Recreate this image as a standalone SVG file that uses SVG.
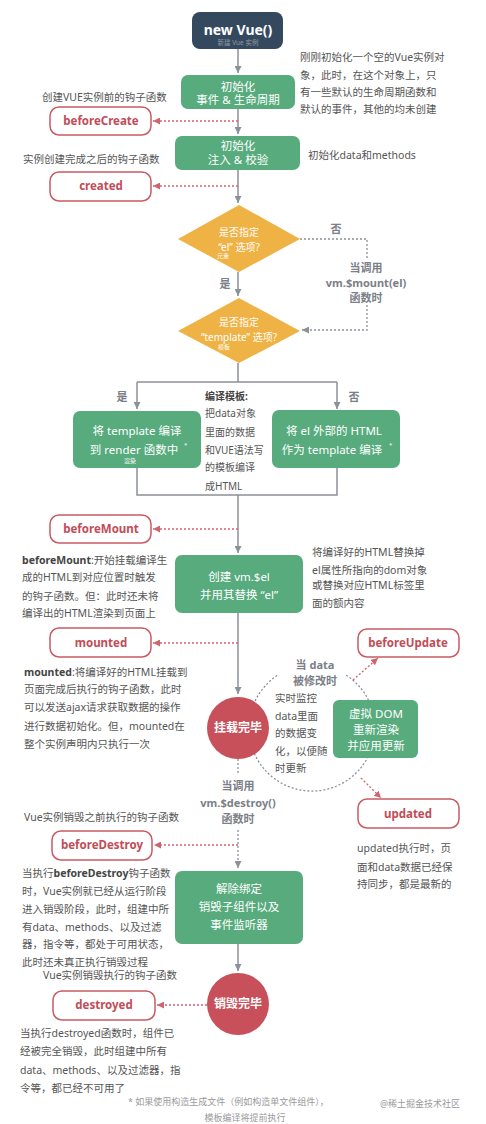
<svg xmlns="http://www.w3.org/2000/svg" width="486" height="1124" viewBox="0 0 486 1124">
<style>
text{font-family:"Noto Sans","Noto Sans CJK SC",sans-serif}
.d{font-size:10.5px;fill:#555}
.dm{font-size:10px;fill:#555}
.b{font-weight:bold;fill:#444}
.g{fill:#57ab7d}
.gt{font-size:11.5px;fill:#fff;text-anchor:middle}
.wt{font-size:10px;fill:#fff;text-anchor:middle}
.sm{font-size:6px;fill:#fff}
.hk{fill:#fff;stroke:#c95a63;stroke-width:1.5}
.hkt{font-size:11.5px;font-weight:bold;fill:#c24c57;text-anchor:middle}
.lb{font-size:11px;font-weight:bold;fill:#7b8088;text-anchor:middle}
.ln{fill:none;stroke:#8c9099;stroke-width:1.5}
.dt{fill:none;stroke:#8c9099;stroke-width:1.3;stroke-dasharray:2 2}
.rd{fill:none;stroke:#d0646d;stroke-width:1.3;stroke-dasharray:2 2}
.dia{fill:#efb244}
.cir{fill:#c7505a}
.ct{font-size:12px;font-weight:bold;fill:#fff;text-anchor:middle}
.fn{font-size:9px;fill:#9a9a9a}
</style>
<defs>
<marker id="ag" viewBox="0 0 10 10" refX="10" refY="5" markerWidth="7" markerHeight="7" markerUnits="userSpaceOnUse" orient="auto"><path d="M0,0L10,5L0,10z" fill="#8c9099" stroke="none"/></marker>
<marker id="ar" viewBox="0 0 10 10" refX="10" refY="5" markerWidth="7" markerHeight="7" markerUnits="userSpaceOnUse" orient="auto"><path d="M0,0L10,5L0,10z" fill="#d0646d" stroke="none"/></marker>
</defs>
<rect width="486" height="1124" fill="#fff"/>

<g id="connectors">
<path class="ln" d="M238,49V73" marker-end="url(#ag)"/>
<path class="ln" d="M238,109V134" marker-end="url(#ag)"/>
<path class="ln" d="M238,170V203" marker-end="url(#ag)"/>
<path class="ln" d="M238,272V296" marker-end="url(#ag)"/>
<path class="ln" d="M238,363V382M137,382H337"/>
<path class="ln" d="M137,382V409" marker-end="url(#ag)"/>
<path class="ln" d="M337,382V409" marker-end="url(#ag)"/>
<path class="ln" d="M137,468V495H337V468"/>
<path class="ln" d="M238,495V553" marker-end="url(#ag)"/>
<path class="ln" d="M238,613V694" marker-end="url(#ag)"/>
<path class="dt" d="M238,759V775"/>
<path class="dt" d="M238,830V868" marker-end="url(#ag)"/>
<path class="ln" d="M238,944V971" marker-end="url(#ag)"/>
<path class="dt" d="M300,239H367V258"/>
<path class="dt" d="M367,305V330H302" marker-end="url(#ag)"/>
<path class="rd" d="M238,121H153" marker-end="url(#ar)"/>
<path class="rd" d="M238,186H153" marker-end="url(#ar)"/>
<path class="rd" d="M238,529H153" marker-end="url(#ar)"/>
<path class="rd" d="M238,643H153" marker-end="url(#ar)"/>
<path class="rd" d="M238,845H154" marker-end="url(#ar)"/>
<path class="rd" d="M207,1005H157" marker-end="url(#ar)"/>
<path class="dt" d="M346.3,675.2A63,63 0 1 1 277.7,675.2"/>
<path class="rd" d="M353,680L378,658" marker-end="url(#ar)"/>
<path class="rd" d="M361,778L381,798" marker-end="url(#ar)"/>
</g>

<g id="newvue">
<rect x="192" y="12" width="91" height="37" rx="8" fill="#34495e"/>
<text x="238" y="35" text-anchor="middle" font-size="14" font-weight="bold" fill="#fff">new Vue()</text>
<text x="238" y="45" text-anchor="middle" font-size="6.5" fill="#8e9aa6">新建 Vue 实例</text>
</g>

<g id="init1">
<rect class="g" x="181" y="75" width="114" height="34" rx="7"/>
<text class="gt" x="238" y="91" font-size="11">初始化</text>
<text class="gt" x="238" y="104" font-size="11">事件 &amp; 生命周期</text>
</g>
<g id="note1">
<text class="d" x="300" y="61">刚刚初始化一个空的Vue实例对</text>
<text class="d" x="300" y="79">象，此时，在这个对象上，只</text>
<text class="d" x="300" y="96">有一些默认的生命周期函数和</text>
<text class="d" x="300" y="113">默认的事件，其他的均未创建</text>
</g>

<g id="beforeCreate">
<text class="d" x="42" y="101">创建VUE实例前的钩子函数</text>
<rect class="hk" x="50" y="107" width="101" height="28" rx="9"/>
<text class="hkt" x="101" y="125">beforeCreate</text>
</g>

<g id="init2">
<rect class="g" x="175" y="136" width="125" height="34" rx="7"/>
<text class="gt" x="238" y="150" font-size="11">初始化</text>
<text class="gt" x="238" y="164" font-size="11">注入 &amp; 校验</text>
<text class="d" x="308" y="159">初始化data和methods</text>
</g>

<g id="created">
<text class="d" x="23" y="163">实例创建完成之后的钩子函数</text>
<rect class="hk" x="50" y="172" width="101" height="29" rx="9"/>
<text class="hkt" x="101" y="190">created</text>
</g>

<g id="decision-el">
<polygon class="dia" points="239,205 300,239 239,272 178,239"/>
<text class="wt" x="239" y="236">是否指定</text>
<text class="wt" x="239" y="251">“el” 选项?</text>
<text class="sm" x="217" y="258">元素</text>
<text class="lb" x="225" y="288">是</text>
<text class="lb" x="336" y="233">否</text>
</g>

<g id="mount-call">
<text class="lb" x="366" y="272">当调用</text>
<text class="lb" x="366" y="287">vm.$mount(el)</text>
<text class="lb" x="366" y="302">函数时</text>
</g>

<g id="decision-template">
<polygon class="dia" points="239,298 300,331 239,363 178,331"/>
<text class="wt" x="239" y="326">是否指定</text>
<text class="wt" x="239" y="341">“template” 选项?</text>
<text class="sm" x="218" y="349">模板</text>
<text class="lb" x="122" y="401">是</text>
<text class="lb" x="354" y="401">否</text>
</g>

<g id="compile-template">
<rect class="g" x="73" y="411" width="128" height="57" rx="7"/>
<text class="gt" x="137" y="435">将 template 编译</text>
<text class="gt" x="134" y="454">到 render 函数中</text>
<text class="sm" x="184" y="447" font-size="8">*</text>
<text class="sm" x="124" y="463">渲染</text>
</g>

<g id="compile-el">
<rect class="g" x="272" y="410" width="128" height="58" rx="7"/>
<text class="gt" x="334" y="435">将 el 外部的 HTML</text>
<text class="gt" x="332" y="454">作为 template 编译</text>
<text class="sm" x="389" y="447" font-size="8">*</text>
</g>

<g id="compile-note">
<text class="dm b" x="205" y="400">编译模板:</text>
<text class="dm" x="205" y="417">把data对象</text>
<text class="dm" x="205" y="436">里面的数据</text>
<text class="dm" x="205" y="454">和VUE语法写</text>
<text class="dm" x="205" y="471">的模板编译</text>
<text class="dm" x="205" y="490">成HTML</text>
</g>

<g id="beforeMount">
<rect class="hk" x="50" y="515" width="101" height="28" rx="9"/>
<text class="hkt" x="101" y="533">beforeMount</text>
<text class="d" x="22" y="564"><tspan class="b">beforeMount</tspan>:开始挂载编译生</text>
<text class="d" x="22" y="581">成的HTML到对应位置时触发</text>
<text class="d" x="22" y="600">的钩子函数。但：此时还未将</text>
<text class="d" x="22" y="617">编译出的HTML渲染到页面上</text>
</g>

<g id="create-el">
<rect class="g" x="175" y="555" width="128" height="58" rx="7"/>
<text class="gt" x="239" y="581">创建  vm.$el</text>
<text class="gt" x="239" y="599">并用其替换 “el”</text>
<text class="d" x="312" y="556">将编译好的HTML替换掉</text>
<text class="d" x="312" y="574">el属性所指向的dom对象</text>
<text class="d" x="312" y="589">或替换对应HTML标签里</text>
<text class="d" x="312" y="607">面的额内容</text>
</g>

<g id="mounted">
<rect class="hk" x="50" y="628" width="101" height="29" rx="9"/>
<text class="hkt" x="101" y="647">mounted</text>
<text class="d" x="24" y="676"><tspan class="b">mounted</tspan>:将编译好的HTML挂载到</text>
<text class="d" x="24" y="693">页面完成后执行的钩子函数，此时</text>
<text class="d" x="24" y="711">可以发送ajax请求获取数据的操作</text>
<text class="d" x="24" y="730">进行数据初始化。但，mounted在</text>
<text class="d" x="24" y="748">整个实例声明内只执行一次</text>
</g>

<g id="mounted-done">
<circle class="cir" cx="238" cy="728" r="31"/>
<text class="ct" x="238" y="732">挂载完毕</text>
</g>

<g id="update-loop">
<text class="lb" x="315" y="669">当 data</text>
<text class="lb" x="315" y="685">被修改时</text>
<text class="d" x="275" y="702">实时监控</text>
<text class="d" x="275" y="720">data里面</text>
<text class="d" x="275" y="737">的数据变</text>
<text class="d" x="275" y="755">化，以便随</text>
<text class="d" x="275" y="772">时更新</text>
</g>

<g id="vdom">
<rect class="g" x="333" y="700" width="85" height="58" rx="6"/>
<text class="gt" x="376" y="718">虚拟 DOM</text>
<text class="gt" x="376" y="734">重新渲染</text>
<text class="gt" x="376" y="750">并应用更新</text>
</g>

<g id="beforeUpdate">
<rect class="hk" x="358" y="629" width="101" height="28" rx="9"/>
<text class="hkt" x="408" y="647">beforeUpdate</text>
</g>

<g id="updated">
<rect class="hk" x="358" y="799" width="101" height="29" rx="9"/>
<text class="hkt" x="408" y="818">updated</text>
<text class="d" x="357" y="852">updated执行时，页</text>
<text class="d" x="357" y="871">面和data数据已经保</text>
<text class="d" x="357" y="888">持同步，都是最新的</text>
</g>

<g id="destroy-call">
<text class="lb" x="238" y="790">当调用</text>
<text class="lb" x="238" y="807">vm.$destroy()</text>
<text class="lb" x="238" y="823">函数时</text>
</g>

<g id="beforeDestroy">
<text class="d" x="24" y="821">Vue实例销毁之前执行的钩子函数</text>
<rect class="hk" x="52" y="831" width="100" height="29" rx="9"/>
<text class="hkt" x="102" y="849">beforeDestroy</text>
<text class="d" x="22" y="877">当执行<tspan class="b">beforeDestroy</tspan>钩子函数</text>
<text class="d" x="22" y="895">时，Vue实例就已经从运行阶段</text>
<text class="d" x="22" y="913">进入销毁阶段，此时，组建中所</text>
<text class="d" x="22" y="931">有data、methods、以及过滤</text>
<text class="d" x="22" y="948">器，指令等，都处于可用状态，</text>
<text class="d" x="22" y="966">此时还未真正执行销毁过程</text>
</g>

<g id="teardown">
<rect class="g" x="175" y="871" width="128" height="73" rx="7"/>
<text class="gt" x="239" y="893">解除绑定</text>
<text class="gt" x="239" y="911">销毁子组件以及</text>
<text class="gt" x="239" y="929">事件监听器</text>
</g>

<g id="destroyed-done">
<circle class="cir" cx="238" cy="1004" r="31"/>
<text class="ct" x="238" y="1008">销毁完毕</text>
</g>

<g id="destroyed">
<text class="d" x="43" y="979">Vue实例销毁执行的钩子函数</text>
<rect class="hk" x="53" y="991" width="102" height="29" rx="9"/>
<text class="hkt" x="104" y="1009">destroyed</text>
<text class="d" x="20" y="1037">当执行destroyed函数时，组件已</text>
<text class="d" x="20" y="1055">经被完全销毁，此时组建中所有</text>
<text class="d" x="20" y="1074">data、methods、以及过滤器，指</text>
<text class="d" x="20" y="1092">令等，都已经不可用了</text>
</g>

<g id="footnote">
<text class="fn" x="128" y="1105">* 如果使用构造生成文件（例如构造单文件组件），</text>
<text class="fn" x="245" y="1121" text-anchor="middle">模板编译将提前执行</text>
<text class="fn" x="380" y="1107" font-size="10">@稀土掘金技术社区</text>
</g>
</svg>
